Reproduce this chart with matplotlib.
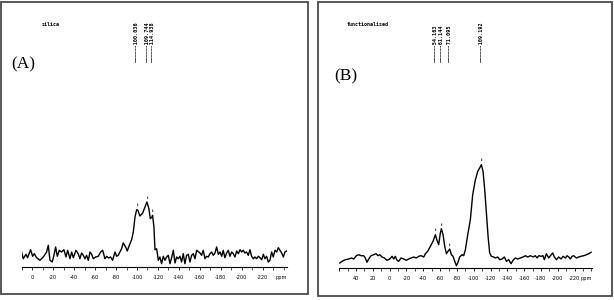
import numpy as np
import matplotlib
matplotlib.use("Agg")
import matplotlib.pyplot as plt
from matplotlib.patches import Rectangle
from matplotlib.ticker import MultipleLocator
import matplotlib.transforms as mtransforms

# ---------------- data ----------------
ppm_a = [10.2, 8.6, 6.0, 4.5, 1.6, -0.3, -1.9, -4.1, -7.3, -10.5, -13.7, -15.3, -16.9, -19.1,
         -20.7, -22.3, -23.9, -25.8, -28.0, -30.2, -32.2, -33.8, -36.0, -37.6, -39.2, -41.7,
         -43.9, -45.5, -47.1, -48.7, -50.3, -51.9, -53.5, -55.1, -56.7, -58.3, -60.5, -63.0,
         -65.3, -67.2, -69.4, -71.0, -72.9, -74.8, -76.7, -79.0, -80.6, -82.1, -83.7, -85.3,
         -86.9, -89.2, -90.7, -92.7, -94.9, -96.5, -98.1, -99.7, -100.9, -102.8, -105.4,
         -107.6, -109.5, -111.4, -112.7, -114.3, -114.9, -116.2, -117.2, -118.8, -120.4,
         -121.9, -123.5, -125.1, -126.7, -128.3, -129.9, -131.5, -133.1, -134.7, -136.3,
         -137.9, -139.5, -141.1, -142.6, -144.2, -145.8, -147.4, -149.0, -150.6, -152.2,
         -153.8, -155.4, -157.0, -160.2, -161.7, -163.3, -164.9, -166.5, -168.1, -169.7,
         -171.3, -172.9, -174.5, -176.1, -177.7, -179.3, -180.9, -182.4, -184.0, -185.6,
         -187.2, -188.8, -190.4, -192.0, -193.6, -195.2, -196.8, -198.4, -200.0, -201.5,
         -203.1, -204.7, -206.3, -207.9, -209.5, -211.1, -212.7, -214.3, -215.9, -217.5,
         -219.1, -220.7, -222.2, -223.8, -225.4, -227.0, -228.6, -230.2, -231.8, -233.4,
         -235.0, -236.6, -238.2, -239.8, -241.3, -242.9]
int_a = [15.0, 8.3, 12.7, 9.3, 17.3, 10.7, 13.3, 9.3, 6.7, 10, 15, 21.7, 6.7, 5, 11.7, 20,
         10.7, 16.7, 15, 17.3, 10, 16.7, 8.3, 15, 9.3, 16.7, 13.3, 8.3, 14, 11.7, 8.3, 11.7,
         6.7, 15, 12.7, 8.3, 10, 10.7, 15, 16.7, 8.3, 10.7, 9, 10, 6.7, 15, 10.7, 11.7, 15,
         18.3, 24, 20, 16, 21.7, 27.3, 35, 50, 57.3, 56.7, 51, 54, 60, 65, 58.3, 48.3, 50,
         51.7, 40, 17.3, 18.3, 6.7, 10, 3.3, 10.7, 6.7, 10, 11.7, 3.3, 9.3, 16.7, 4, 10, 8.3,
         10.7, 5, 13.3, 3.3, 11.7, 12.7, 5, 11.7, 13.3, 8.3, 16.7, 14, 11.7, 16.7, 8.3, 10.7,
         10, 13.3, 15, 11.7, 14, 20, 12.7, 15, 10.7, 16.7, 9.3, 14, 16.7, 10.7, 15, 13.3, 10,
         16, 13.3, 17.3, 15, 16.7, 14, 15, 11.7, 17.3, 10.7, 8.3, 10, 8.3, 10.7, 9.3, 7.3,
         12.7, 8.3, 10.7, 5, 6.7, 15, 10, 16.7, 15, 19.3, 16.7, 14, 10, 15, 16]

ppm_b = [59.5, 56.7, 52.8, 48.8, 45.6, 42.9, 39.7, 36.9, 34.1, 31.0, 29.0, 27.0, 25.0, 22.2,
         19.0, 16.3, 13.9, 11.9, 9.1, 6.3, 3.2, 0.0, -2.8, -4.8, -6.7, -8.7, -10.7, -13.5,
         -16.7, -19.8, -22.6, -25.4, -28.6, -31.7, -34.5, -37.3, -40.5, -42.5, -45.2, -48.4,
         -51.6, -54.4, -56.3, -58.3, -60.3, -61.5, -63.5, -65.5, -67.5, -69.4, -71.4, -73.4,
         -75.4, -77.4, -79.4, -81.0, -83.3, -86.1, -88.1, -90.1, -92.9, -96.0, -98.8, -102.0,
         -104.8, -107.1, -109.1, -111.1, -113.1, -115.1, -117.1, -119.0, -121.0, -123.8,
         -125.8, -128.6, -131.0, -133.7, -136.5, -138.9, -141.7, -144.4, -146.8, -149.6,
         -152.4, -155.6, -158.7, -161.5, -164.3, -167.5, -170.6, -173.4, -175.4, -177.4,
         -180.2, -182.5, -184.1, -186.5, -189.3, -191.3, -194.0, -196.0, -198.4, -201.2,
         -204.0, -206.3, -209.1, -211.1, -213.1, -215.1, -217.1, -219.0, -222.2, -225.0,
         -227.8, -231.0, -234.1, -236.9, -239.7]
int_b = [5, 6.7, 8.3, 9, 10, 9, 12.3, 13.3, 12.3, 12.3, 10, 5.7, 9, 12.3, 13.3, 14.3, 12.3,
         13.3, 11, 10, 7.7, 9, 11.7, 9, 11.7, 7.7, 6.7, 10, 9, 7.7, 9, 10, 11, 10, 11.7, 12.3,
         11, 14.3, 16.7, 21.7, 26.7, 33.3, 27.7, 23.3, 35, 39.3, 33.3, 21.7, 14.3, 16.7, 19,
         13.3, 11.7, 6.7, 2.3, 5, 11, 13.3, 12.3, 18.3, 33.3, 48.3, 73.3, 88.3, 96.7, 100,
         103.3, 96.7, 78.3, 55, 31.7, 15, 11.7, 11, 10, 11, 8.3, 9, 11, 6.7, 8.3, 4.3, 7.7,
         10, 9, 10, 11, 12.3, 11, 12.3, 11, 12.3, 10, 12.3, 11.7, 12.3, 8.3, 14.3, 10, 12.3,
         15, 11, 8.3, 11, 9, 11.7, 10, 12.3, 11, 9, 11.7, 12.3, 10, 11, 11.7, 12.3, 13.3,
         14.3, 15.7]

peaks_a = [-100.036, -109.744, -114.938]
peaks_b = [-54.163, -61.144, -71.095, -109.192]
ticks_a = list(range(0, -221, -20))
ticks_b = list(range(40, -221, -20))
title_a = "silica"
title_b = "functionalised"

# ---------------- figure ----------------
W, H = 614, 300
fig = plt.figure(figsize=(W / 100, H / 100), dpi=100)

def px(x0, y0, x1, y1):
    # pixel box (top-left origin) -> figure fraction rect
    return [x0 / W, 1 - y1 / H, (x1 - x0) / W, (y1 - y0) / H]

# panel frames
for (x0, y0, x1, y1) in [(1.5, 1.5, 308, 294), (318, 2, 612, 296)]:
    fig.patches.append(Rectangle((x0 / W, 1 - y1 / H), (x1 - x0) / W, (y1 - y0) / H,
                                 transform=fig.transFigure, fill=False,
                                 edgecolor="#4a4a4a", linewidth=1.3))

TICK_LEN, TICK_PAD = 2.5, 3.0

def spectrum(rect, ppm, inten, xlim, ticks, labels, peaks, title, title_xy, letter,
             letter_xy, ppm_frac, label_bottom_px):
    ax = fig.add_axes(rect)
    ax.plot(ppm, inten, color="black", linewidth=1.0)
    ax.set_xlim(*xlim)
    ax.set_ylim(0, rect[3] * H)
    for s in ["top", "right", "left"]:
        ax.spines[s].set_visible(False)
    ax.spines["bottom"].set_linewidth(0.8)
    ax.set_yticks([])
    ax.set_xticks(ticks)
    ax.set_xticklabels(labels, fontsize=3.6)
    ax.xaxis.set_minor_locator(MultipleLocator(10))
    ax.tick_params(axis="x", which="major", length=TICK_LEN, width=0.6, pad=TICK_PAD)
    ax.tick_params(axis="x", which="minor", length=1.8, width=0.5)
    ax.annotate("ppm", (ppm_frac, 0), xycoords="axes fraction",
                xytext=(0, -(TICK_LEN + TICK_PAD)), textcoords="offset points",
                fontsize=3.6, ha="center", va="top")
    # peak markers
    for p in peaks:
        h = np.interp(-p, -np.array(ppm), np.array(inten))
        ax.annotate("i", (p, h), xytext=(0, 2), textcoords="offset points",
                    ha="center", va="bottom", fontsize=3, fontweight="bold")
    # peak labels
    tr = mtransforms.blended_transform_factory(ax.transData, fig.transFigure)
    for p in peaks:
        ax.text(p, 1 - label_bottom_px / H, "\u2500" * 5 + f"{p:.3f}", transform=tr,
                rotation=90, ha="center", va="bottom", fontsize=3.7,
                family="DejaVu Sans Mono", fontweight="bold")
    fig.text(title_xy[0] / W, 1 - title_xy[1] / H, title, fontsize=3.6,
             family="DejaVu Sans Mono", fontweight="bold", ha="left", va="center")
    fig.text(letter_xy[0] / W, 1 - letter_xy[1] / H, letter, fontsize=12.5,
             family="Liberation Serif", ha="left", va="center")
    return ax

spectrum(px(21.7, 20, 286.7, 267), ppm_a, int_a, (10.1, -243), ticks_a,
         [str(t) for t in ticks_a], peaks_a, title_a, (42, 25), "(A)", (11, 64), 0.981, 63)
spectrum(px(338.7, 20, 592, 268), ppm_b, int_b, (60.7, -240.8), [60] + ticks_b,
         [""] + [str(t) for t in ticks_b], peaks_b, title_b, (347, 25), "(B)", (334, 76),
         0.976, 63)

fig.savefig("out.png", dpi=100)
